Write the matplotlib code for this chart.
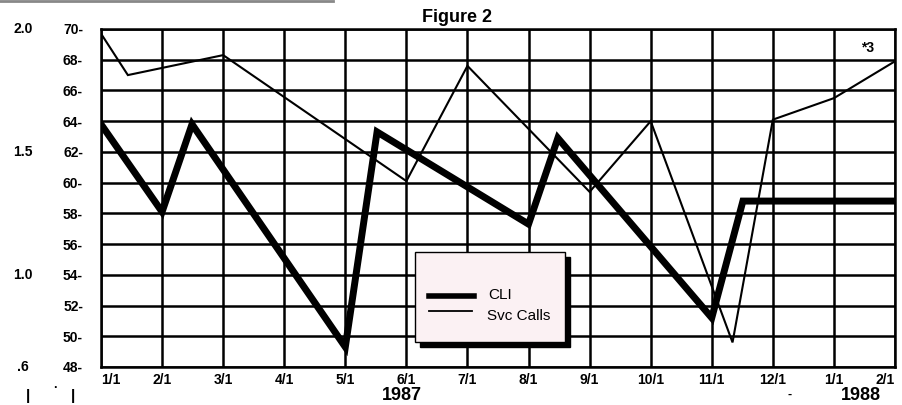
import matplotlib
matplotlib.use('Agg')
import matplotlib.pyplot as plt
from matplotlib.lines import Line2D
from matplotlib.patches import Rectangle

plt.rcParams['font.family'] = ['Liberation Sans', 'DejaVu Sans']

# x positions are months after 1/1/1987
month_labels = ['1/1', '2/1', '3/1', '4/1', '5/1', '6/1', '7/1', '8/1',
                '9/1', '10/1', '11/1', '12/1', '1/1', '2/1']
left_ticks = [70, 68, 66, 64, 62, 60, 58, 56, 54, 52, 50, 48]
cli_scale = ['2.0', '1.5', '1.0', '.6']
cli_scale_pos = [70, 62, 54, 48]

svc_x = [0, 0.44, 2, 5, 6, 8, 9, 10.34, 11, 12, 13]
svc_y = [69.7, 67.0, 68.3, 60.1, 67.6, 59.4, 64.0, 49.6, 64.1, 65.5, 67.9]

cli_x = [0, 1, 1.49, 4, 4.52, 7, 7.48, 10, 10.51, 13]
cli_y = [63.8, 58.1, 63.8, 49.3, 63.3, 57.3, 62.9, 51.2, 58.8, 58.8]

fig = plt.figure(figsize=(9.02, 4.05), dpi=100)
ax = fig.add_axes([101/902, 1 - 367/405, 794/902, 338/405])

ax.plot(svc_x, svc_y, color='black', lw=1.5, solid_joinstyle='miter', zorder=3)
ax.plot(cli_x, cli_y, color='black', lw=5, solid_joinstyle='miter', zorder=4)

ax.set_xlim(0, 13)
ax.set_ylim(48, 70)
ax.set_xticks(range(len(month_labels)))
ax.set_xticklabels(month_labels, fontsize=10, fontweight='bold')
xl = ax.get_xticklabels()
xl[0].set_ha('left')
xl[-1].set_ha('right')
ax.set_yticks(left_ticks)
ax.set_yticklabels([f'{v}-' for v in left_ticks], fontsize=10, fontweight='bold')
ax.tick_params(length=0)
ax.tick_params(axis='y', pad=13)
ax.tick_params(axis='x', pad=4)
ax.grid(True, color='black', lw=1.8)
for s in ax.spines.values():
    s.set_linewidth(1.8)

# second scale for CLI, far left
for lab, v in zip(cli_scale, cli_scale_pos):
    ax.text(-1.28, v, lab, ha='center', va='center', fontsize=10, fontweight='bold',
            transform=ax.transData, clip_on=False)

fig.text(457/902, 1 - 17/405, 'Figure 2', ha='center', va='center',
         fontsize=13, fontweight='bold')
fig.text(402/902, 1 - 396/405, '1987', ha='center', va='center',
         fontsize=13, fontweight='bold')
fig.text(861/902, 1 - 396/405, '1988', ha='center', va='center',
         fontsize=13, fontweight='bold')
fig.text(790/902, 1 - 395/405, '-', ha='center', va='center', fontsize=9,
         fontweight='bold')
fig.text(868/902, 1 - 48/405, '*3', ha='center', va='center', fontsize=10,
         fontweight='bold')
for px in [28, 73]:
    fig.text(px/902, 1 - 396/405, '|', ha='center', va='center', fontsize=11,
             fontweight='bold')
fig.text(55/902, 1 - 388/405, '\u00b7', ha='center', va='center', fontsize=9,
         fontweight='bold')

# top-left rule
fig.add_artist(Line2D([0, 333/902], [1 - 1/405, 1 - 1/405], color='#888888', lw=2))

# legend box with black shadow
bx, by, bw, bh = 415, 252, 150, 90
fig.add_artist(Rectangle(((bx + 5)/902, 1 - (by + bh + 5)/405), bw/902, bh/405,
                         facecolor='black', edgecolor='black', zorder=5))
fig.add_artist(Rectangle((bx/902, 1 - (by + bh)/405), bw/902, bh/405,
                         facecolor='#fbf1f3', edgecolor='black', lw=1, zorder=6))
fig.add_artist(Line2D([429/902, 474/902], [1 - 296/405, 1 - 296/405],
                      color='black', lw=4, zorder=7))
fig.add_artist(Line2D([429/902, 472/902], [1 - 311/405, 1 - 311/405],
                      color='black', lw=1.3, zorder=7))
fig.text(488/902, 1 - 295/405, 'CLI', ha='left', va='center', fontsize=11,
         zorder=7)
fig.text(487/902, 1 - 316/405, 'Svc Calls', ha='left', va='center', fontsize=11,
         zorder=7)

fig.savefig('out.png', dpi=100)
